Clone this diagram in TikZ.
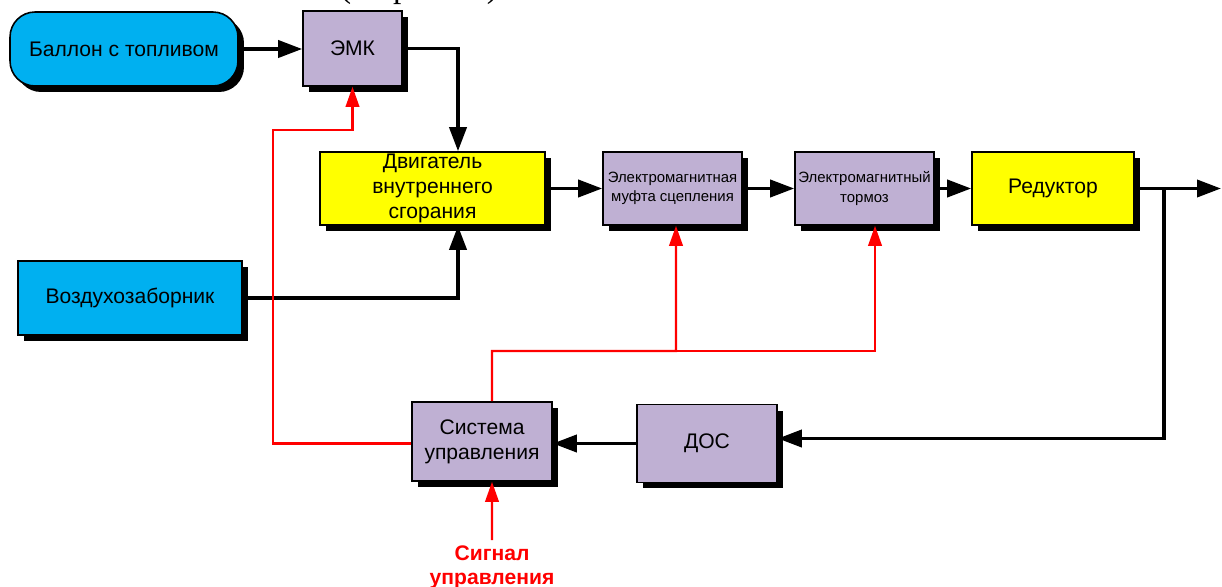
\documentclass[tikz,border=0pt]{standalone}
\usepackage{fontspec}
\setmainfont{Liberation Sans}
\newfontfamily\serifcyr{Liberation Serif}
\usetikzlibrary{arrows.meta,shadows,calc}
\definecolor{cyanfill}{RGB}{0,176,240}
\definecolor{lavfill}{RGB}{191,176,211}
\definecolor{yelfill}{RGB}{255,255,0}
\definecolor{sigred}{RGB}{255,0,0}
\tikzset{
  blockbox/.style={draw=black, line width=0.9pt, align=center,
    drop shadow={shadow xshift=0.12cm, shadow yshift=-0.12cm, fill=black, opacity=1},
    font=\fontsize{12}{14.2}\selectfont, inner sep=1pt},
  cyanbox/.style={blockbox, fill=cyanfill},
  lavbox/.style={blockbox, fill=lavfill},
  yelbox/.style={blockbox, fill=yelfill},
  smalltext/.style={font=\fontsize{8.5}{11}\selectfont},
  blk/.style={draw=black, line width=2.1pt, -{Triangle[length=0.48cm,width=0.34cm]}},
  redl/.style={draw=sigred, line width=1.2pt},
  redarr/.style={redl, -{Triangle[length=0.4cm,width=0.27cm]}},
  siglabel/.style={text=sigred, font=\bfseries\fontsize{12}{13.7}\selectfont, align=center, inner sep=0pt}
}
\begin{document}
\begin{tikzpicture}[x=0.02cm, y=-0.02cm]
\useasboundingbox (0,0) rectangle (1222,587);
% cut-off heading at the very top
\node[anchor=base, inner sep=0pt, font=\serifcyr\fontsize{19}{21}\selectfont] (head) at (419,-2) {(в проекте)};
% blocks
\node[cyanbox, rounded corners=0.5cm, minimum width=4.56cm, minimum height=1.48cm] (ballon) at (124,49) {Баллон с топливом};
\node[lavbox, minimum width=1.98cm, minimum height=1.5cm] (emk) at (352.5,48.5) {ЭМК};
\node[yelbox, minimum width=4.5cm, minimum height=1.46cm] (dvs) at (432.5,188.5) {Двигатель\\внутреннего\\сгорания};
\node[lavbox, smalltext, minimum width=2.78cm, minimum height=1.46cm] (mufta) at (672.5,188.5) {Электромагнитная\\муфта сцепления};
\node[lavbox, smalltext, minimum width=2.78cm, minimum height=1.46cm] (tormoz) at (864.5,188.5) {Электромагнитный\\тормоз};
\node[yelbox, minimum width=3.24cm, minimum height=1.46cm] (reduct) at (1053,188.5) {Редуктор};
\node[cyanbox, minimum width=4.48cm, minimum height=1.48cm] (air) at (130,298) {Воздухозаборник};
\node[lavbox, minimum width=2.8cm, minimum height=1.58cm] (sys) at (482,441.5) {Система\\управления};
\node[lavbox, minimum width=2.8cm, minimum height=1.56cm] (dos) at (707,443.5) {ДОС};
\node[siglabel, anchor=north] (sig) at (492,545) {Сигнал\\управления};
% helper coordinates
\coordinate (out) at (1221,188.5);
\coordinate (branch) at (1164,188.5);
\coordinate (rleft) at (273,130);
\coordinate (rbus) at (676,351);
% black connectors
\draw[blk] (ballon.east) -- (emk.west |- ballon.east);
\draw[blk] (emk.east) -| ([xshift=0.51cm]dvs.north);
\draw[blk] (air.east) -| ([xshift=0.51cm]dvs.south);
\draw[blk] (dvs.east) -- (mufta.west);
\draw[blk] (mufta.east) -- (tormoz.west);
\draw[blk] (tormoz.east) -- (reduct.west);
\draw[blk] (reduct.east) -- (out);
\draw[blk] (branch) |- ([yshift=0.1cm]dos.east);
\draw[blk] (dos.west) -- (sys.east |- dos.west);
% red control connectors
\draw[redarr] (sys.west |- 0,443.5) -| (rleft) -| (emk.south);
\draw[redarr] ([xshift=0.2cm]sys.north) |- (rbus) -- ([xshift=0.07cm]mufta.south);
\draw[redarr] (rbus) -| ([xshift=0.21cm]tormoz.south);
\draw[redarr] ([yshift=0.1cm]sig.north) -- ([xshift=0.2cm]sys.south);
\end{tikzpicture}
\end{document}
